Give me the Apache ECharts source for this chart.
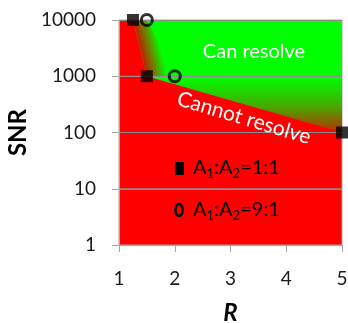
<!DOCTYPE html>
<html>
<head>
<meta charset="utf-8">
<script src="https://cdn.jsdelivr.net/npm/echarts@6/dist/echarts.min.js"></script>
<style>
html,body{margin:0;padding:0;background:#fff;}
#chart{width:348px;height:323px;}
</style>
</head>
<body>
<div id="chart"></div>
<script>
// ---- data ----
const xTicks = [1, 2, 3, 4, 5];
const yTicks = [1, 10, 100, 1000, 10000];
// A1:A2 = 1:1 (filled squares) - boundary of "cannot resolve"
const r_1to1 = [1.25, 1.5, 5];
const snr_1to1 = [10000, 1000, 100];
// A1:A2 = 9:1 (open circles)
const r_9to1 = [1.5, 2];
const snr_9to1 = [10000, 1000];
const regionLabels = ['Can resolve', 'Cannot resolve'];

const FONT = 'Lato';
const chart = echarts.init(document.getElementById('chart'));

function pairs(xs, ys) { return xs.map((x, i) => [x, ys[i]]); }

const option = {
  animation: false,
  grid: {
    left: 119, right: 6, top: 20, bottom: 78,
    outerBoundsMode: 'none', containLabel: false,
    show: true, backgroundColor: '#ff0000', borderColor: '#a6a6a6', borderWidth: 1
  },
  xAxis: {
    type: 'value', min: xTicks[0], max: xTicks[xTicks.length - 1], interval: 1,
    name: 'R', nameLocation: 'middle', nameGap: 56,
    nameTextStyle: { fontFamily: FONT, fontSize: 24, fontWeight: 'bold', fontStyle: 'italic', color: '#000' },
    axisLine: { show: true, lineStyle: { color: '#a6a6a6', width: 1 } },
    axisTick: { show: true, length: 7, lineStyle: { color: '#a6a6a6' } },
    axisLabel: { fontFamily: FONT, fontSize: 19, color: '#1a1a1a', margin: 24 },
    splitLine: { show: false },
    z: 4
  },
  yAxis: {
    type: 'log', logBase: 10, min: yTicks[0], max: yTicks[yTicks.length - 1],
    name: 'SNR', nameLocation: 'middle', nameGap: 85,
    nameTextStyle: { fontFamily: FONT, fontSize: 24, fontWeight: 'bold', color: '#000' },
    axisLine: { show: true, lineStyle: { color: '#a6a6a6', width: 1 } },
    axisTick: { show: true, inside: false, length: 7, lineStyle: { color: '#a6a6a6' } },
    axisLabel: { fontFamily: FONT, fontSize: 19, color: '#1a1a1a', margin: 23, formatter: v => String(v) },
    splitLine: { show: true, lineStyle: { color: '#8c8c8c', width: 1.2 } },
    z: 4
  },
  series: [
    {
      type: 'custom',
      z: 1,
      silent: true,
      data: [[r_1to1[0], snr_1to1[0]]],
      encode: { x: 0, y: 1 },
      renderItem: function (params, api) {
        const xMax = xTicks[xTicks.length - 1], yMax = yTicks[yTicks.length - 1];
        const red = pairs(r_1to1, snr_1to1).map(p => api.coord(p));
        const circ = pairs(r_9to1, snr_9to1).map(p => api.coord(p));
        const topRight = api.coord([xMax, yMax]);
        const y1000 = api.coord([xMax, 1000])[1];
        const y100 = api.coord([xMax, 100])[1];
        const greenPoly = [red[0], [topRight[0], topRight[1]], red[2], red[1]];
        const green = {
          type: 'polygon',
          shape: { points: greenPoly },
          style: {
            fill: {
              type: 'linear', global: true,
              x: 0, y: y1000, x2: 0, y2: y100,
              colorStops: [
                { offset: 0, color: '#00ff00' },
                { offset: 0.5, color: '#40b000' },
                { offset: 1, color: '#b83000' }
              ]
            }
          }
        };
        const a = red[0], d = red[1], b = circ[0], c = circ[1];
        const m1 = [(a[0] + d[0]) / 2, (a[1] + d[1]) / 2];
        const m2 = [(b[0] + c[0]) / 2, (b[1] + c[1]) / 2];
        const u = [d[0] - a[0], d[1] - a[1]];
        const ul = Math.hypot(u[0], u[1]);
        let n = [-u[1] / ul, u[0] / ul];
        let dist = (m2[0] - m1[0]) * n[0] + (m2[1] - m1[1]) * n[1];
        if (dist < 0) { n = [-n[0], -n[1]]; dist = -dist; }
        const band = {
          type: 'polygon',
          shape: { points: [a, b, c, d] },
          style: {
            fill: {
              type: 'linear', global: true,
              x: m1[0], y: m1[1], x2: m1[0] + n[0] * dist, y2: m1[1] + n[1] * dist,
              colorStops: [
                { offset: 0, color: '#c02000' },
                { offset: 0.45, color: '#708000' },
                { offset: 1, color: '#00ff00' }
              ]
            }
          }
        };
        const lines = yTicks.slice(1, -1).map(t => {
          const p0 = api.coord([xTicks[0], t]);
          const p1 = api.coord([xMax, t]);
          return { type: 'line', shape: { x1: p0[0], y1: p0[1], x2: p1[0], y2: p1[1] },
                   style: { stroke: '#8c8c8c', lineWidth: 1.2 } };
        });
        return { type: 'group', children: [green, band].concat(lines) };
      }
    },
    {
      name: 'A1:A2=1:1',
      type: 'scatter',
      z: 6,
      symbol: 'rect',
      symbolSize: 12,
      itemStyle: { color: '#000' },
      data: pairs(r_1to1, snr_1to1)
    },
    {
      name: 'A1:A2=9:1',
      type: 'scatter',
      z: 6,
      symbol: 'circle',
      symbolSize: 11,
      itemStyle: { color: 'rgba(0,0,0,0)', borderColor: '#000', borderWidth: 3 },
      data: pairs(r_9to1, snr_9to1)
    }
  ],
  graphic: [
    {
      type: 'text', x: 254, y: 52, z: 10,
      style: { text: regionLabels[0], fill: '#fff', font: '20px Lato', textAlign: 'center', textVerticalAlign: 'middle' }
    },
    {
      type: 'text', x: 244, y: 118, rotation: -0.29, z: 10,
      style: { text: regionLabels[1], fill: '#fff', font: '21px Lato', textAlign: 'center', textVerticalAlign: 'middle' }
    },
    { type: 'rect', shape: { x: 175, y: 162, width: 9, height: 13 }, style: { fill: '#000' }, z: 10 },
    { type: 'ellipse', shape: { cx: 179, cy: 210, rx: 3.6, ry: 6 }, style: { fill: 'none', stroke: '#000', lineWidth: 2.5 }, z: 10 },
    {
      type: 'text', x: 193, y: 168, z: 10,
      style: {
        text: '{a|A}{s|1}{a|:A}{s|2}{a|=1:1}', textVerticalAlign: 'middle',
        rich: {
          a: { fontFamily: FONT, fontSize: 20, color: '#111', lineHeight: 24 },
          s: { fontFamily: FONT, fontSize: 13, color: '#111', lineHeight: 12, verticalAlign: 'bottom' }
        }
      }
    },
    {
      type: 'text', x: 193, y: 210, z: 10,
      style: {
        text: '{a|A}{s|1}{a|:A}{s|2}{a|=9:1}', textVerticalAlign: 'middle',
        rich: {
          a: { fontFamily: FONT, fontSize: 20, color: '#111', lineHeight: 24 },
          s: { fontFamily: FONT, fontSize: 13, color: '#111', lineHeight: 12, verticalAlign: 'bottom' }
        }
      }
    }
  ]
};
chart.setOption(option);
</script>
</body>
</html>
